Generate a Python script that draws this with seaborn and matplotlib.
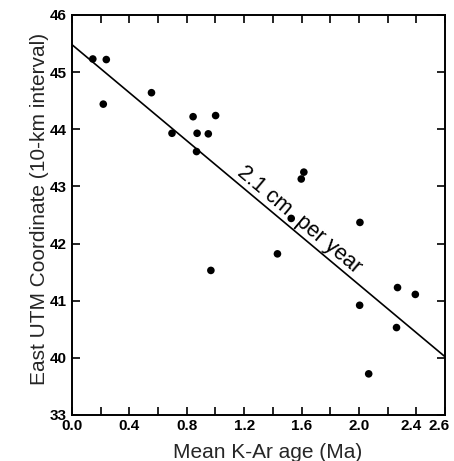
import matplotlib
matplotlib.use("Agg")
import matplotlib.pyplot as plt
import matplotlib.transforms as mtransforms
import numpy as np
import pandas as pd
import seaborn as sns

# mean K-Ar age (Ma) and east UTM coordinate (10-km interval)
age_ma = [0.145, 0.239, 0.218, 0.554, 0.697, 0.844, 0.872, 0.868, 0.95, 1.001,
          0.968, 1.616, 1.598, 1.528, 2.007, 1.432, 2.005, 2.269, 2.393, 2.262,
          2.068]
utm_east = [45.23, 45.22, 44.44, 44.64, 43.93, 44.22, 43.93, 43.61, 43.92, 44.24,
            41.53, 43.25, 43.13, 42.44, 42.37, 41.82, 40.92, 41.23, 41.11, 40.53,
            39.72]

# fitted rate line, 2.1 cm per year
fit_age = [0.0, 2.6]
fit_utm = [45.48, 40.02]

xticks = [0.0, 0.2, 0.4, 0.6, 0.8, 1.0, 1.2, 1.4, 1.6, 1.8, 2.0, 2.2, 2.4, 2.6]
xtick_labels = ['0.0', '', '0.4', '', '0.8', '', '1.2', '', '1.6', '', '2.0', '', '2.4', '2.6']
yticks = [39, 40, 41, 42, 43, 44, 45, 46]
ytick_labels = ['33', '40', '41', '42', '43', '44', '45', '46']

df = pd.DataFrame({'age': age_ma, 'utm': utm_east})
df_fit = pd.DataFrame({'age': fit_age, 'utm': fit_utm})

sns.set_style('ticks')
plt.rcParams['font.family'] = ['Liberation Sans', 'DejaVu Sans']

fig = plt.figure(figsize=(4.54, 4.61), dpi=100)
ax = fig.add_axes([0.1586, 0.0998, 0.8216, 0.8677])

sns.lineplot(data=df_fit, x='age', y='utm', ax=ax, color='black', linewidth=1.2)
sns.scatterplot(data=df, x='age', y='utm', ax=ax, color='black', s=30,
                edgecolor='none', zorder=3)

ax.text(1.561, 42.34, '2.1 cm  per year', rotation=-40, rotation_mode='anchor',
        ha='center', va='baseline', fontsize=15.5, color='black')

ax.set_xlim(0, 2.6)
ax.set_ylim(39, 46)
ax.set_xticks(xticks)
ax.set_xticklabels(xtick_labels, fontsize=11, fontweight='bold')
ax.set_yticks(yticks)
ax.set_yticklabels(ytick_labels, fontsize=11, fontweight='bold')
ax.tick_params(direction='in', length=6, width=1.2, top=True, right=True,
               color='black', labelcolor='black')
ax.tick_params(axis='x', pad=3)
ax.tick_params(axis='y', pad=4)

# nudge the crowded last labels left a little
shift = mtransforms.ScaledTranslation(-4 / 72, 0, fig.dpi_scale_trans)
for lab in ax.get_xticklabels()[-2:]:
    lab.set_transform(lab.get_transform() + shift)

for spine in ax.spines.values():
    spine.set_visible(True)
    spine.set_linewidth(1.4)
    spine.set_color('black')

ax.set_xlabel('Mean K-Ar age (Ma)', fontsize=15)
ax.set_ylabel('East UTM Coordinate (10-km interval)', fontsize=15)
ax.xaxis.set_label_coords(0.524, -0.069)
ax.yaxis.set_label_coords(-0.062, 0.516)

fig.savefig('out.png', dpi=100)
